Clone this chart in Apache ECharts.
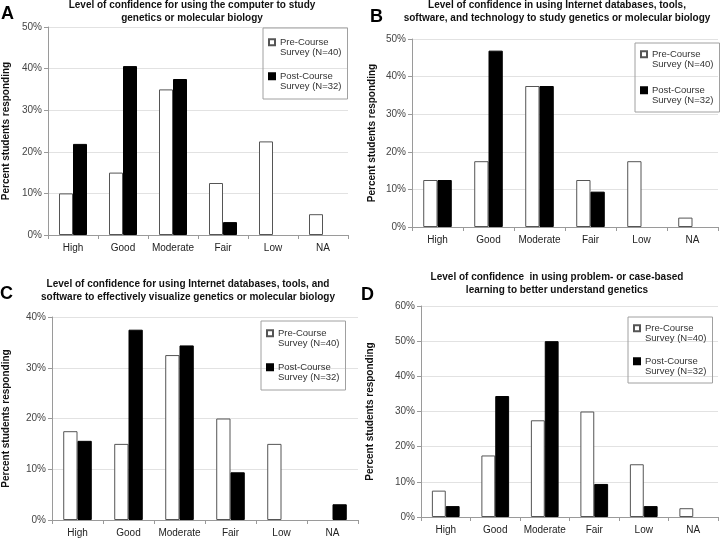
<!DOCTYPE html>
<html><head><meta charset="utf-8">
<script src="https://cdn.jsdelivr.net/npm/echarts@6/dist/echarts.min.js"></script>
<style>html,body{margin:0;background:#fff}#c{width:720px;height:540px}</style>
</head><body><div id="c"></div>
<script>
// ---- data ----
const categories = ['High', 'Good', 'Moderate', 'Fair', 'Low', 'NA'];
const preA  = [10, 15, 35, 12.5, 22.5, 5];
const postA = [21.9, 40.6, 37.5, 3.1, 0, 0];
const preB  = [12.5, 17.5, 37.5, 12.5, 17.5, 2.5];
const postB = [12.5, 46.9, 37.5, 9.4, 0, 0];
const preC  = [17.5, 15, 32.5, 20, 15, 0];
const postC = [15.6, 37.5, 34.4, 9.4, 0, 3.1];
const preD  = [7.5, 17.5, 27.5, 30, 15, 2.5];
const postD = [3.1, 34.4, 50, 9.4, 3.1, 0];
const yMax = [50, 50, 40, 60];
const panelLetters = ['A', 'B', 'C', 'D'];
const panelTitles = [
  'Level of confidence for using the computer to study\ngenetics or molecular biology',
  'Level of confidence in using Internet databases, tools,\nsoftware, and technology to study genetics or molecular biology',
  'Level of confidence for using Internet databases, tools, and\nsoftware to effectively visualize genetics or molecular biology',
  'Level of confidence  in using problem- or case-based\nlearning to better understand genetics'
];
const preName = 'Pre-Course\nSurvey (N=40)';
const postName = 'Post-Course\nSurvey (N=32)';
const yAxisName = 'Percent students responding';

// ---- layout ----
const FONT = '"Liberation Sans", Arial, sans-serif';
const grids = [
  {left: 45, top: 27, width: 303, height: 208},
  {left: 412, top: 39, width: 306, height: 188},
  {left: 46, top: 317, width: 312, height: 203},
  {left: 421, top: 306, width: 297, height: 211}
];
const nameGaps = [37, 35, 41, 46];
const titlePos = [[192, 11.5], [557, 12], [188, 291], [557, 283.5]];
const letterPos = [[1, 14], [370, 17], [0, 294], [361, 295]];
const legendPos = [[263, 28], [635, 43], [261, 321], [628, 317]];
const legendPad = [[8, 6, 6, 5], [5, 6, 5, 5], [6, 6, 6, 5], [5, 6, 5, 5]];
const legendGap = [11, 13, 11, 10];

const pres = [preA, preB, preC, preD];
const posts = [postA, postB, postC, postD];
const clean = arr => arr.map(v => (v === 0 ? null : v));

const xAxis = [], yAxis = [], series = [], legend = [], graphic = [];
grids.forEach((g, i) => {
  xAxis.push({
    type: 'category', gridIndex: i, data: categories,
    axisLine: {lineStyle: {color: '#9a9a9a'}},
    axisTick: {show: true, length: 4, lineStyle: {color: '#9a9a9a'}},
    axisLabel: {interval: 0, color: '#222', fontSize: 10, fontFamily: FONT, margin: 8}
  });
  yAxis.push({
    type: 'value', gridIndex: i, min: 0, max: yMax[i], interval: 10,
    name: yAxisName, nameLocation: 'middle', nameGap: nameGaps[i], nameRotate: 90,
    nameTextStyle: {color: '#111', fontSize: 10, fontWeight: 'bold', fontFamily: FONT},
    axisLine: {show: true, lineStyle: {color: '#9a9a9a'}},
    axisTick: {show: true, length: 4, lineStyle: {color: '#9a9a9a'}},
    axisLabel: {color: '#444', fontSize: 10, fontFamily: FONT, margin: 6, formatter: '{value}%'},
    splitLine: {lineStyle: {color: '#e2e2e2'}}
  });
  series.push({
    type: 'bar', name: preName, xAxisIndex: i, yAxisIndex: i, data: clean(pres[i]),
    barWidth: '28%', barGap: '0%',
    itemStyle: {color: '#fff', borderColor: '#555', borderWidth: 1}
  });
  series.push({
    type: 'bar', name: postName, xAxisIndex: i, yAxisIndex: i, data: clean(posts[i]),
    barWidth: '28%', barGap: '0%',
    itemStyle: {color: '#000', borderColor: '#000', borderWidth: 1}
  });
  legend.push({
    data: [preName, postName], orient: 'vertical',
    left: legendPos[i][0], top: legendPos[i][1],
    itemWidth: 6, itemHeight: 21, itemGap: legendGap[i],
    icon: 'path://M0,0L0,0M0,2.25h6v6h-6zM0,21L0,21',
    borderColor: '#a0a0a0', borderWidth: 1, padding: legendPad[i],
    selectedMode: false,
    textStyle: {color: '#333', fontSize: 9.5, lineHeight: 10.5, fontFamily: FONT}
  });
  graphic.push({
    type: 'text', x: titlePos[i][0], y: titlePos[i][1],
    style: {text: panelTitles[i], textAlign: 'center', textVerticalAlign: 'middle',
      font: 'bold 10px ' + FONT, fill: '#111', lineHeight: 13}
  });
  graphic.push({
    type: 'text', x: letterPos[i][0], y: letterPos[i][1],
    style: {text: panelLetters[i], textAlign: 'left', textVerticalAlign: 'middle',
      font: 'bold 18px ' + FONT, fill: '#000'}
  });
});

const chart = echarts.init(document.getElementById('c'), null, {renderer: 'canvas'});
chart.setOption({
  animation: false,
  backgroundColor: '#fff',
  grid: grids.map(g => Object.assign({containLabel: false}, g)),
  xAxis, yAxis, series, legend, graphic
});
</script>
</body></html>
